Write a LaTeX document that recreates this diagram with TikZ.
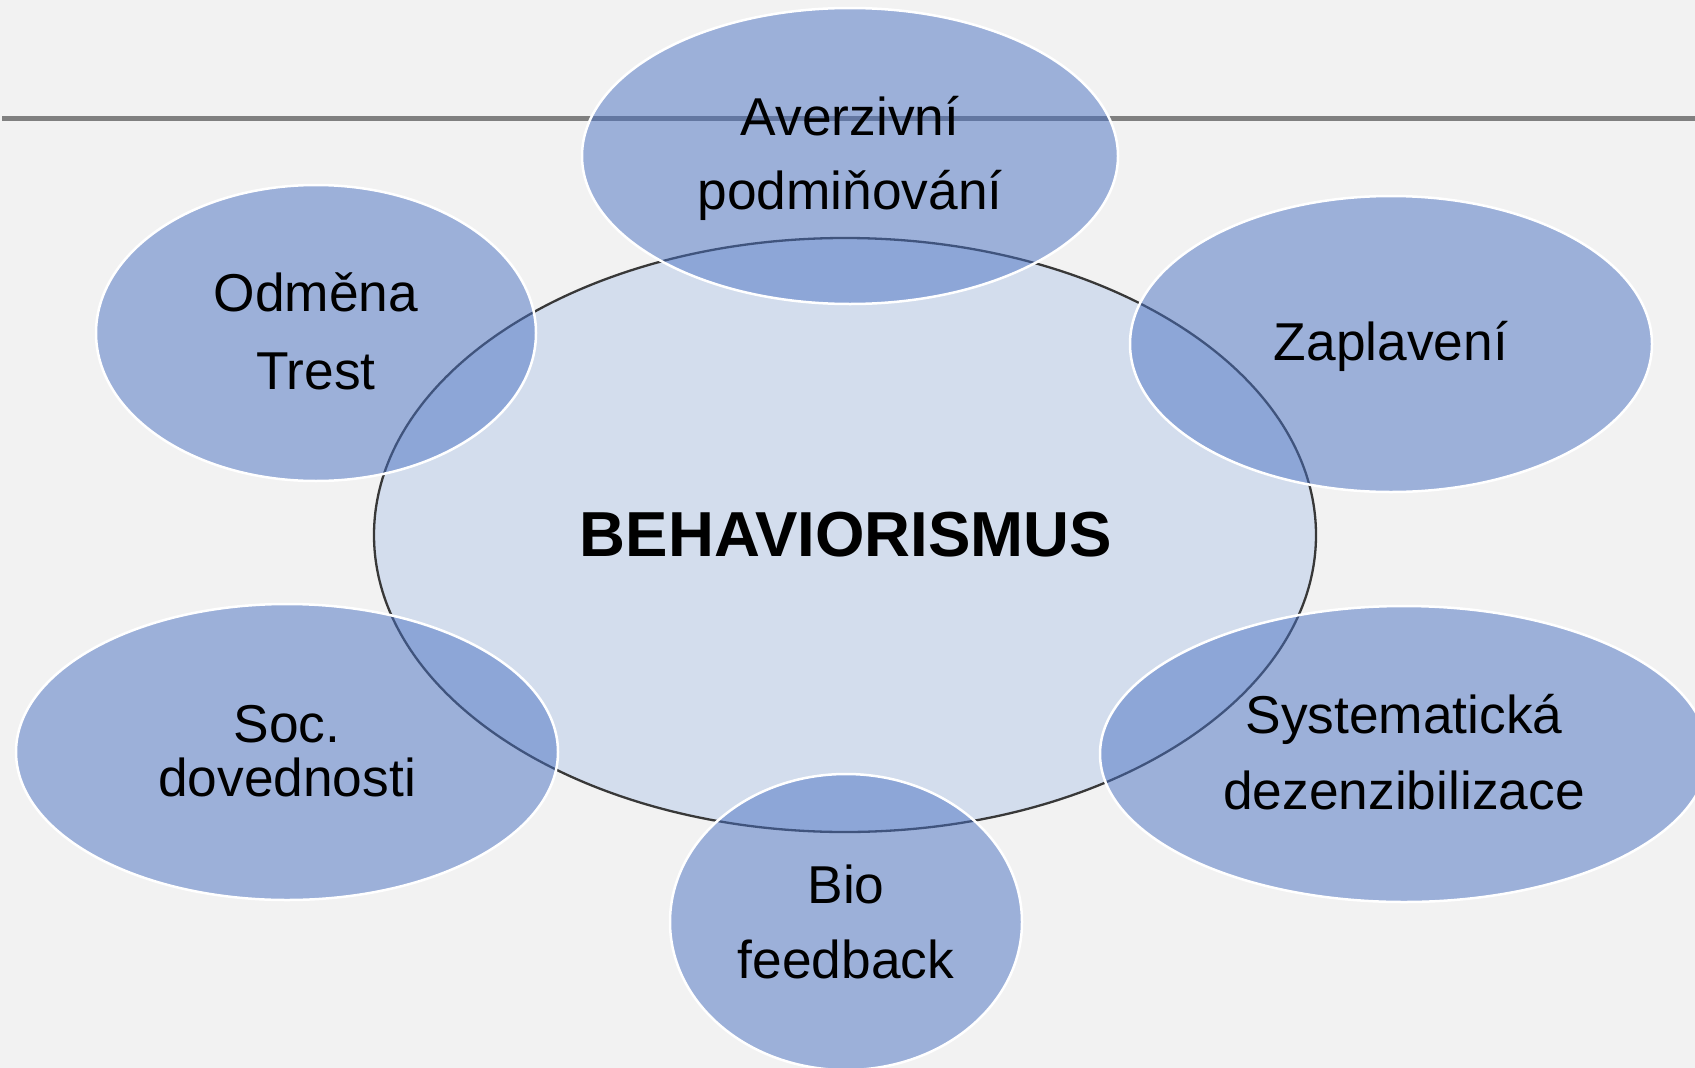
\documentclass[tikz,border=0pt]{standalone}
\usepackage{fontspec}
\setmainfont{Liberation Sans}
\usetikzlibrary{shapes.geometric}
\definecolor{bgc}{HTML}{F2F2F2}
\definecolor{corefill}{HTML}{D3DDED}
\definecolor{coreline}{HTML}{383838}
\definecolor{satfill}{RGB}{72,112,194}
\definecolor{rulec}{HTML}{808080}
\begin{document}
\begin{tikzpicture}[x=1pt,y=-1pt,
  core/.style={ellipse, draw=coreline, line width=2.3pt, fill=corefill, inner sep=0pt},
  sat/.style={ellipse, draw=white, line width=2.5pt, fill=satfill, fill opacity=0.5, draw opacity=1, inner sep=0pt, minimum height=296pt},
  lbl/.style={anchor=base, font=\fontsize{53.3}{60}\selectfont, inner sep=0pt, text=black},
  titletext/.style={anchor=base, font=\bfseries\fontsize{63.6}{70}\selectfont, inner sep=0pt, text=black}]
\useasboundingbox (0,0) rectangle (1695,1068);
\fill[bgc] (0,0) rectangle (1695,1068);
\clip (0,0) rectangle (1695,1068);
\coordinate (ruleL) at (2,118);
\coordinate (ruleR) at (1695,118);
\draw[rulec, line width=5pt] (ruleL) -- (ruleR);
\node[core, minimum width=942pt, minimum height=594pt] (core) at (845,535) {};
\node[sat, minimum width=536pt] (aver) at (850,156) {};
\node[sat, minimum width=440pt] (odm) at (316,333) {};
\node[sat, minimum width=522pt] (zap) at (1391,344) {};
\node[sat, minimum width=542pt] (soc) at (287,752) {};
\node[sat, minimum width=608pt] (sys) at (1404,754) {};
\node[sat, minimum width=352pt] (bio) at (846,922) {};
\node[titletext] (tcore) at (846,556) {BEHAVIORISMUS};
\node[lbl] (taver1) at (850,135) {Averzivní};
\node[lbl] (taver2) at (850,209) {podmiňování};
\node[lbl] (todm1) at (316,311) {Odměna};
\node[lbl] (todm2) at (316,389) {Trest};
\node[lbl] (tzap) at (1391,360) {Zaplavení};
\node[lbl] (tsoc1) at (287,742) {Soc.};
\node[lbl] (tsoc2) at (287,796) {dovednosti};
\node[lbl] (tsys1) at (1404,733) {Systematická};
\node[lbl] (tsys2) at (1404,809) {dezenzibilizace};
\node[lbl] (tbio1) at (846,903) {Bio};
\node[lbl] (tbio2) at (846,978) {feedback};
\end{tikzpicture}
\end{document}
